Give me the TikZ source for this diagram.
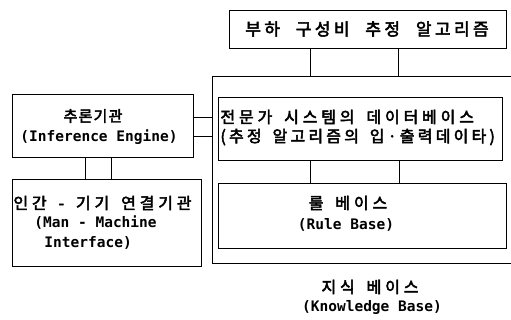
\documentclass[tikz,border=0pt]{standalone}
\usepackage{fontspec}
\newfontfamily\kr{Noto Sans CJK KR}[LetterSpace=24,WordSpace=1.6,FakeBold=3]
\newfontfamily\krtop{Noto Sans CJK KR}[LetterSpace=20,WordSpace=2.2,FakeBold=3]
\newfontfamily\en{DejaVu Sans Mono}
\begin{document}
\begin{tikzpicture}[x=1pt,y=-1pt,line width=0.9pt,
  box/.style={draw,anchor=north west,inner sep=0pt},
  kt/.style={font=\kr\fontsize{16}{18}\selectfont,inner sep=0pt},
  ktop/.style={font=\krtop\fontsize{17}{19}\selectfont,inner sep=0pt},
  et/.style={font=\en\bfseries\fontsize{14.5}{16}\selectfont,inner sep=0pt}]
\useasboundingbox (0,0) rectangle (511,320);
% boxes
\node[box,minimum width=277pt,minimum height=38pt] (alg) at (229,10) {};
\node[box,minimum width=181pt,minimum height=63pt] (inf) at (12,94) {};
\node[box,minimum width=189pt,minimum height=87pt] (man) at (12,179) {};
\node[box,minimum width=284pt,minimum height=63pt] (data) at (218,97) {};
\node[box,minimum width=288pt,minimum height=65pt] (rule) at (218,183) {};
% knowledge base frame (open to the right)
\coordinate (kbtr) at (511,76);
\coordinate (kbtl) at (212,76);
\coordinate (kbbl) at (212,263);
\coordinate (kbbr) at (511,263);
\draw (kbtr) -- (kbtl) -- (kbbl) -- (kbbr);
% connectors
\draw (alg.south -| 310,0) -- (kbtl -| 310,0);
\draw (alg.south -| 398,0) -- (kbtl -| 398,0);
\draw (inf.east |- 0,117) -- (kbtl |- 0,117);
\draw (inf.east |- 0,136) -- (kbtl |- 0,136);
\draw (inf.south -| 85,0) -- (man.north -| 85,0);
\draw (inf.south -| 111,0) -- (man.north -| 111,0);
\draw (data.south -| 310,0) -- (rule.north -| 310,0);
\draw (data.south -| 399,0) -- (rule.north -| 399,0);
% texts
\node[ktop] (talg) at (367,29) {부하 구성비 추정 알고리즘};
\node[kt,font=\kr\fontsize{15}{17}\selectfont\addfontfeature{LetterSpace=8}] (tinf1) at (93,116) {추론기관};
\node[et] (tinf2) at (99,137) {(Inference Engine)};
\node[kt,anchor=west] (tdata1) at (220,117) {전문가 시스템의 데이터베이스};
\node[kt,anchor=west,font=\kr\fontsize{16}{18}\selectfont\addfontfeature{LetterSpace=20}] (tdata2) at (220,137) {(추정 알고리즘의 입·출력데이타)};
\node[kt] (trule1) at (348,203) {룰 베이스};
\node[et] (trule2) at (346,225) {(Rule Base)};
\node[kt,anchor=west] (tman1) at (13,203) {인간 - 기기 연결기관};
\node[et,anchor=west] (tman2) at (34,223) {(Man - Machine};
\node[et,anchor=west] (tman3) at (44,243) {Interface)};
\node[kt] (tkb1) at (370,287) {지식 베이스};
\node[et] (tkb2) at (372,307) {(Knowledge Base)};
\end{tikzpicture}
\end{document}
